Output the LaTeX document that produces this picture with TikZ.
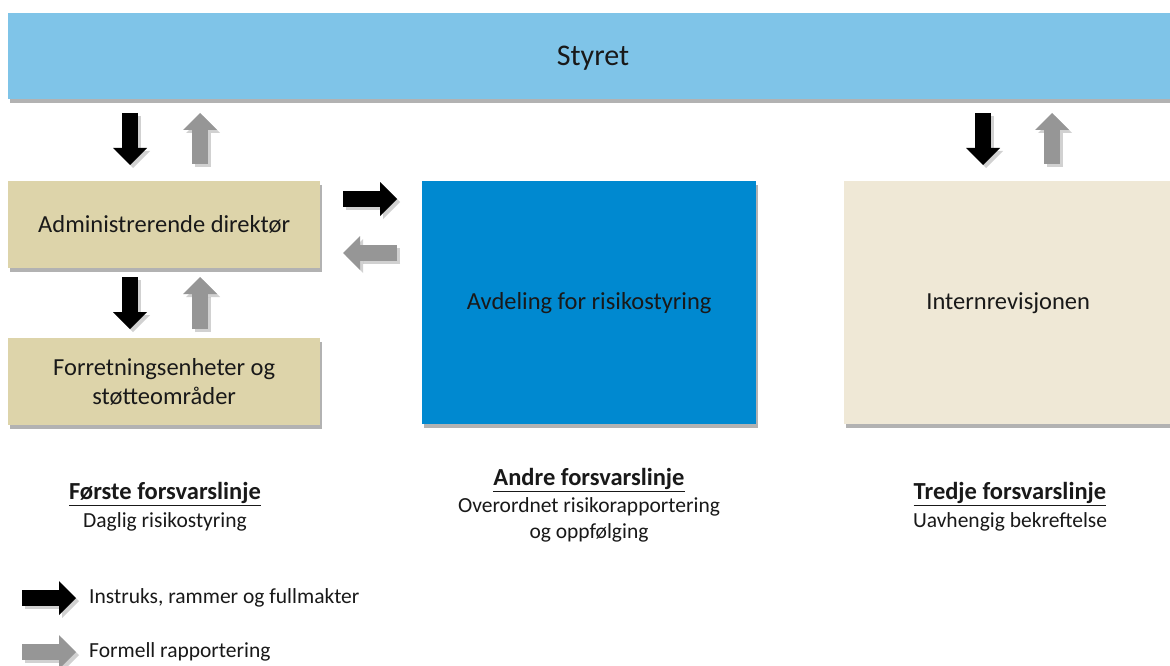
\documentclass[tikz,border=0pt]{standalone}
\usepackage{fontspec}
\setmainfont{Carlito}
\usetikzlibrary{arrows.meta,shadows}
\definecolor{styretblue}{RGB}{127,196,232}
\definecolor{tanbox}{RGB}{221,212,170}
\definecolor{riskblue}{RGB}{0,137,208}
\definecolor{cream}{RGB}{239,232,214}
\definecolor{repgray}{RGB}{150,150,150}
\definecolor{txt}{RGB}{25,25,25}
\tikzset{
  box/.style={anchor=north west, inner sep=0pt, text=txt, align=center,
    font=\fontsize{24.5}{29}\selectfont,
    drop shadow={shadow xshift=2pt, shadow yshift=-4pt, opacity=0.3, fill=black}},
  blocktip/.style={-{Triangle[width=34pt,length=17pt,line width=0pt]}},
  instr/.style={draw=black, line width=16pt, blocktip},
  report/.style={draw=repgray, line width=16pt, blocktip},
  ashadow/.style={draw=black, opacity=0.18, line width=16pt, blocktip,
    transform canvas={shift={(3pt,-3pt)}}},
  heading/.style={align=center, text=txt, inner sep=0pt, font=\fontsize{24.5}{29}\selectfont\bfseries},
  caption/.style={align=center, text=txt, inner sep=0pt, font=\fontsize{21.5}{26.5}\selectfont},
  legendtxt/.style={anchor=west, text=txt, inner sep=0pt, font=\fontsize{21.5}{26}\selectfont},
}
\newcommand\blockarr[3]{%
  \draw[ashadow] (#2) -- (#3);
  \draw[#1] (#2) -- (#3);}
\begin{document}
\begin{tikzpicture}[x=1pt,y=-1pt]
\useasboundingbox (0,0) rectangle (1170,666);
\fill[white] (0,0) rectangle (1170,666);

% boxes
\node[box, fill=styretblue, minimum width=1170pt, minimum height=86pt] (styret) at (8,13) {};
\node[text=txt, font=\fontsize{30}{36}\selectfont, inner sep=0pt] (styretlbl) at (593,58) {Styret};
\node[box, fill=tanbox, minimum width=312pt, minimum height=87pt] (adm) at (8,181)
  {Administrerende direktør};
\node[box, fill=tanbox, minimum width=312pt, minimum height=87pt] (forr) at (8,338)
  {Forretningsenheter og\\støtteområder};
\node[box, fill=riskblue, minimum width=334pt, minimum height=243pt] (risk) at (422,181)
  {Avdeling for risikostyring};
\node[box, fill=cream, minimum width=328pt, minimum height=243pt] (intern) at (844,181)
  {Internrevisjonen};

% connector coordinates
\coordinate (s1a) at (130,113); \coordinate (s1b) at (130,165);
\coordinate (r1a) at (200,164); \coordinate (r1b) at (200,113);
\coordinate (s2a) at (130,277); \coordinate (s2b) at (130,329);
\coordinate (r2a) at (200,329); \coordinate (r2b) at (200,277);
\coordinate (h1a) at (343,199); \coordinate (h1b) at (397,199);
\coordinate (h2a) at (397,253); \coordinate (h2b) at (343,253);
\coordinate (s3a) at (983,113); \coordinate (s3b) at (983,165);
\coordinate (r3a) at (1052,164); \coordinate (r3b) at (1052,113);
\coordinate (l1a) at (22,598); \coordinate (l1b) at (76,598);
\coordinate (l2a) at (22,652); \coordinate (l2b) at (76,652);

\blockarr{instr}{s1a}{s1b}
\blockarr{report}{r1a}{r1b}
\blockarr{instr}{s2a}{s2b}
\blockarr{report}{r2a}{r2b}
\blockarr{instr}{h1a}{h1b}
\blockarr{report}{h2a}{h2b}
\blockarr{instr}{s3a}{s3b}
\blockarr{report}{r3a}{r3b}
\blockarr{instr}{l1a}{l1b}
\blockarr{report}{l2a}{l2b}

% captions
\node[heading] (c1h) at (165,494) {\underline{Første forsvarslinje}};
\node[caption] (c1) at (165,522) {Daglig risikostyring};
\node[heading] (c2h) at (589,480) {\underline{Andre forsvarslinje}};
\node[caption] (c2) at (589,520) {Overordnet risikorapportering\\og oppfølging};
\node[heading] (c3h) at (1010,494) {\underline{Tredje forsvarslinje}};
\node[caption] (c3) at (1010,522) {Uavhengig bekreftelse};

% legend
\node[legendtxt] (lg1) at (89,598) {Instruks, rammer og fullmakter};
\node[legendtxt] (lg2) at (89,652) {Formell rapportering};
\end{tikzpicture}
\end{document}
